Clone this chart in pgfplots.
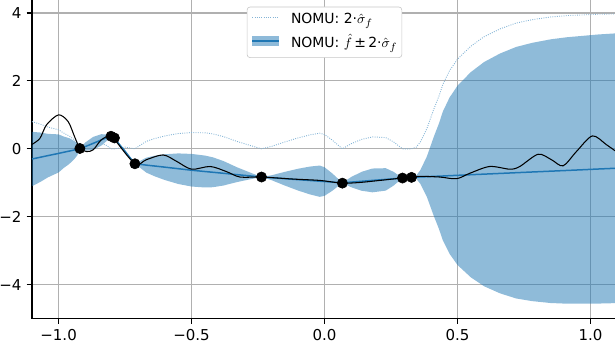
\documentclass[border=0pt]{standalone}
\usepackage{pgfplots}
\pgfplotsset{compat=1.18}
\usepackage{pgfplotstable}
\usepgfplotslibrary{fillbetween}
\usepackage{fontspec}
\setmainfont{DejaVu Sans}
\definecolor{c0}{HTML}{1F77B4}
\definecolor{gridc}{HTML}{B0B0B0}

% x, mean m, 2*sigma d
\pgfplotstableread{
x m d
-1.10 -0.300 0.80
-1.07 -0.250 0.73
-1.04 -0.200 0.64
-1.00 -0.135 0.56
-0.98 -0.100 0.46
-0.96 -0.067 0.38
-0.94 -0.033 0.26
-0.93 -0.017 0.18
-0.92  0.000 0.00
-0.90  0.065 0.12
-0.87  0.160 0.19
-0.84  0.260 0.17
-0.82  0.325 0.10
-0.803 0.380 0.00
-0.79  0.310 0.00
-0.75 -0.080 0.05
-0.713 -0.440 0.00
-0.69 -0.460 0.12
-0.67 -0.480 0.22
-0.64 -0.505 0.30
-0.60 -0.540 0.38
-0.55 -0.585 0.45
-0.50 -0.630 0.48
-0.45 -0.668 0.47
-0.42 -0.690 0.44
-0.38 -0.720 0.36
-0.33 -0.760 0.22
-0.28 -0.797 0.10
-0.237 -0.830 0.00
-0.20 -0.850 0.07
-0.15 -0.879 0.20
-0.10 -0.907 0.32
-0.055 -0.932 0.41
-0.018 -0.953 0.46
 0.00 -0.963 0.42
 0.03 -0.980 0.25
 0.067 -1.000 0.00
 0.10 -0.980 0.15
 0.14 -0.955 0.28
 0.18 -0.930 0.35
 0.23 -0.900 0.33
 0.26 -0.880 0.20
 0.293 -0.860 0.00
 0.327 -0.840 0.00
 0.345 -0.834 0.05
 0.36 -0.828 0.20
 0.385 -0.820 0.60
 0.41 -0.811 1.15
 0.43 -0.805 1.55
 0.445 -0.800 1.90
 0.47 -0.790 2.30
 0.50 -0.780 2.64
 0.55 -0.762 3.02
 0.60 -0.745 3.30
 0.66 -0.724 3.53
 0.72 -0.703 3.70
 0.78 -0.682 3.80
 0.85 -0.658 3.88
 0.91 -0.637 3.92
 0.97 -0.616 3.94
 1.03 -0.594 3.96
 1.10 -0.570 3.97
}\nomu

\pgfplotstableread{
x y
-1.100 0.13
-1.070 0.31
-1.045 0.71
-1.000 1.00
-0.964 0.80
-0.940 0.36
-0.920 0.02
-0.895 -0.08
-0.870 -0.03
-0.840 0.26
-0.807 0.40
-0.795 0.33
-0.713 -0.44
-0.670 -0.32
-0.607 -0.18
-0.556 -0.37
-0.500 -0.60
-0.430 -0.52
-0.369 -0.67
-0.318 -0.83
-0.237 -0.83
-0.118 -0.89
-0.018 -0.93
 0.067 -1.01
 0.133 -0.99
 0.208 -0.93
 0.293 -0.86
 0.327 -0.84
 0.358 -0.81
 0.433 -0.83
 0.496 -0.88
 0.546 -0.72
 0.621 -0.52
 0.697 -0.60
 0.734 -0.52
 0.803 -0.16
 0.853 -0.32
 0.897 -0.50
 0.947 -0.08
 1.007 0.38
 1.060 0.12
 1.100 -0.10
}\truef

\pgfplotstableread{
x y
-0.920 0.01
-0.803 0.37
-0.790 0.32
-0.713 -0.44
-0.237 -0.83
 0.067 -1.01
 0.293 -0.86
 0.327 -0.84
}\pts

\begin{document}
\fontsize{10}{12}\selectfont
\begin{tikzpicture}
\begin{axis}[name=ax, scale only axis, width=388.7pt, height=212.5pt,
  xmin=-1.1, xmax=1.092, ymin=-5, ymax=4.38,
  axis x line*=bottom, axis y line*=left,
  axis line style={line width=0.8pt, black},
  xtick={-1,-0.5,0,0.5,1}, xticklabels={−1.0,−0.5,0.0,0.5,1.0},
  ytick={-4,-2,0,2,4}, yticklabels={−4,−2,0,2,4},
  tick align=outside, major tick length=3.5pt,
  tick style={line width=0.8pt, black},
  ticklabel style={font=\fontsize{10}{12}\selectfont},
  grid=major, grid style={line width=0.8pt, gridc},
  legend style={at={(0.5017,0.979)}, anchor=north, draw=black!22, fill=white,
    rounded corners=2pt, font=\fontsize{9.3}{11}\selectfont,
    inner xsep=3pt, inner ysep=4pt, row sep=5.9pt, column sep=7.5pt,
    nodes={inner sep=0pt, text height=7pt, text depth=2.7pt}},
  legend cell align=left,
]
\addplot[draw=none, name path=hi, forget plot] table[x=x, y expr=\thisrow{m}+\thisrow{d}] {\nomu};
\addplot[draw=none, name path=lo, forget plot] table[x=x, y expr=\thisrow{m}-\thisrow{d}] {\nomu};
\addplot[fill=c0, fill opacity=0.5, draw=none, forget plot] fill between[of=hi and lo];
\addplot[c0!55!white, line width=0.6pt, dash pattern=on 0.6pt off 0.9pt, forget plot] table[x=x, y=d] {\nomu};
\addplot[c0, line width=1pt, forget plot] table[x=x, y=m] {\nomu};
\addplot[black, line width=0.7pt, smooth, tension=0.5, forget plot] table {\truef};
\addplot[only marks, mark=*, mark size=3.4pt, black, forget plot] table {\pts};
\addlegendimage{legend image code/.code={\draw[c0!55!white, line width=0.6pt, dash pattern=on 0.6pt off 0.9pt, sharp corners] (0pt,2.2pt) -- (17.8pt,2.2pt);}}
\addlegendentry{NOMU: 2·$\hat{\sigma}_f$}
\addlegendimage{legend image code/.code={\fill[c0, fill opacity=0.5, draw=none, sharp corners] (0pt,-0.9pt) rectangle (17.8pt,5.3pt); \draw[c0, line width=1pt, sharp corners] (0pt,2.2pt) -- (17.8pt,2.2pt);}}
\addlegendentry{NOMU: $\hat{f}\,$±$\,$2·$\hat{\sigma}_f$}
\end{axis}
\pgfresetboundingbox
\path[use as bounding box] ([xshift=-21.33pt, yshift=-19.5pt]ax.south west) rectangle (ax.north east);
\end{tikzpicture}
\end{document}
